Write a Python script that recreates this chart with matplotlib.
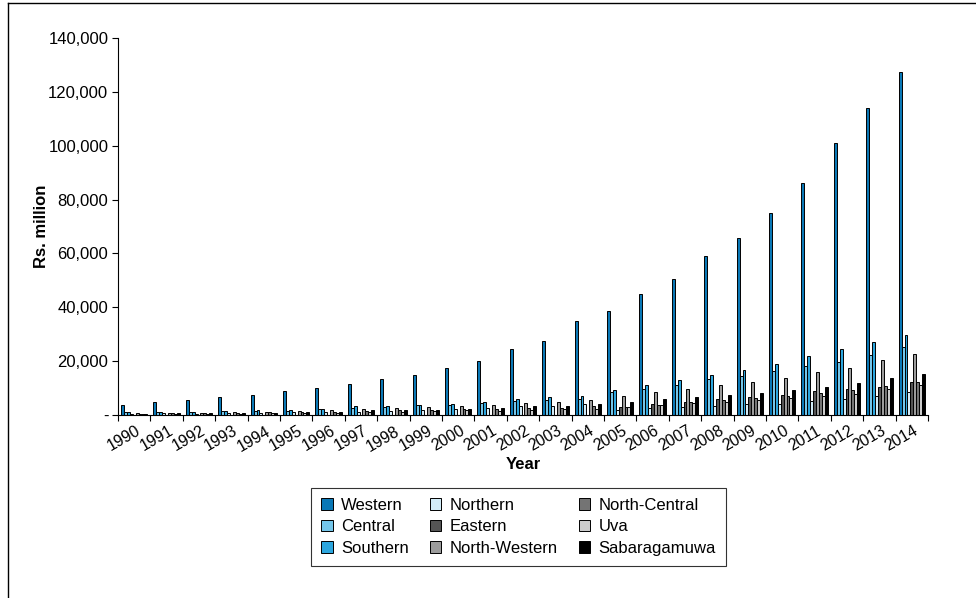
import matplotlib
matplotlib.use('Agg')
import matplotlib.pyplot as plt
from matplotlib.lines import Line2D
from matplotlib.ticker import FuncFormatter, FixedLocator
import matplotlib.transforms as mtransforms
import numpy as np

plt.rcParams['font.family'] = ['Liberation Sans', 'DejaVu Sans']

years = [str(y) for y in range(1990, 2015)]
provinces = ['Western', 'Central', 'Southern', 'Northern', 'Eastern',
             'North-Western', 'North-Central', 'Uva', 'Sabaragamuwa']
colors = ['#0a78b6', '#74c6ea', '#2ca6de', '#d2ecf8', '#555555',
          '#9c9c9c', '#747474', '#cccccc', '#000000']

# values in thousand Rs. million
western = [3.8, 4.7, 5.4, 6.5, 7.5, 8.8, 10.0, 11.5, 13.4, 14.9, 17.3, 19.9, 24.5,
           27.4, 34.9, 38.7, 44.8, 50.6, 59.0, 65.8, 75.1, 86.3, 100.9, 113.9, 127.3]
central = [1.0, 1.1, 1.2, 1.3, 1.5, 1.6, 2.1, 2.6, 3.0, 3.6, 3.7, 4.5, 5.3,
           5.6, 6.0, 8.4, 9.7, 11.3, 13.2, 14.4, 16.2, 18.1, 19.8, 22.4, 25.3]
southern = [1.0, 1.2, 1.2, 1.5, 1.7, 2.0, 2.4, 3.2, 3.5, 3.8, 4.1, 4.9, 5.9,
            6.7, 7.2, 9.2, 11.0, 12.9, 14.8, 16.6, 19.1, 22.0, 24.6, 27.2, 29.6]
northern = [0.5, 0.6, 0.5, 0.6, 0.8, 1.0, 1.2, 1.2, 1.6, 1.9, 2.1, 2.5, 3.3,
            3.5, 3.9, 2.0, 2.7, 3.1, 3.5, 3.9, 4.2, 5.1, 6.0, 7.2, 8.7]
eastern = [0, 0, 0, 0, 0, 0, 0, 0, 0, 0, 0, 0, 0,
           0, 0, 3.1, 3.9, 5.0, 5.8, 6.8, 7.6, 8.8, 9.8, 10.5, 12.1]
north_western = [0.6, 0.9, 0.9, 1.2, 1.2, 1.5, 1.8, 2.2, 2.6, 2.9, 3.2, 3.8, 4.5,
                 4.8, 5.5, 7.1, 8.5, 9.7, 11.3, 12.4, 13.8, 16.0, 17.5, 20.3, 22.6]
north_central = [0.4, 0.6, 0.6, 0.7, 1.0, 1.1, 1.1, 1.5, 1.7, 1.7, 2.2, 2.1, 2.5,
                 2.5, 3.2, 2.8, 3.8, 5.0, 5.5, 6.4, 6.9, 8.0, 9.2, 10.8, 12.4]
uva = [0.4, 0.5, 0.5, 0.5, 0.9, 0.8, 0.7, 1.0, 1.2, 1.5, 2.0, 1.5, 2.0,
       2.4, 2.4, 3.1, 3.8, 4.3, 5.0, 5.6, 6.4, 7.2, 7.9, 9.7, 11.2]
sabaragamuwa = [0.4, 0.6, 0.6, 0.7, 0.9, 1.1, 1.2, 1.7, 2.0, 2.0, 2.4, 2.6, 3.2,
                3.5, 3.9, 4.9, 5.8, 6.8, 7.6, 8.2, 9.1, 10.5, 11.7, 13.8, 15.2]

series = [western, central, southern, northern, eastern,
          north_western, north_central, uva, sabaragamuwa]

fig = plt.figure(figsize=(9.76, 5.98), dpi=100)
ax = fig.add_axes([118/976, 1-415/598, 810/976, 377/598])

x = np.arange(len(years))
w = 0.09
for k, (name, vals, c) in enumerate(zip(provinces, series, colors)):
    ax.bar(x - 0.405 + (k + 0.5)*w, np.array(vals)*1000, width=w, color=c,
           edgecolor='black', linewidth=0.7, label=name)

ax.set_xlim(-0.5, len(years) - 0.5)
ax.set_ylim(0, 140000)
ax.set_yticks(range(0, 140001, 20000))
ax.yaxis.set_major_formatter(FuncFormatter(lambda v, p: '-' if v == 0 else f'{int(v):,}'))

ax.xaxis.set_major_locator(FixedLocator(np.arange(len(years) + 1) - 0.5))
ax.xaxis.set_minor_locator(FixedLocator(x))
ax.set_xticklabels([], minor=False)
ax.set_xticklabels(years, minor=True, rotation=30, ha='right')
ax.tick_params(axis='x', which='major', length=4, width=0.8, direction='out')
ax.tick_params(axis='x', which='minor', length=0, pad=6, labelsize=11.5)
ax.tick_params(axis='y', length=4, width=0.8, labelsize=12, pad=3)
shift = mtransforms.ScaledTranslation(9/100, 0, fig.dpi_scale_trans)
for lab in ax.get_xticklabels(minor=True):
    lab.set_transform(lab.get_transform() + shift)

for s in ['top', 'right']:
    ax.spines[s].set_visible(False)
for s in ['left', 'bottom']:
    ax.spines[s].set_linewidth(0.8)

ax.set_ylabel('Rs. million', fontsize=12, fontweight='bold')
ax.yaxis.set_label_coords(-0.085, 0.5)
ax.set_xlabel('Year', fontsize=12, fontweight='bold', labelpad=2)

leg = fig.legend(loc='lower left', bbox_to_anchor=(311/976, 1-566/598, 415/976, 81/598),
                 mode='expand', ncol=3, fontsize=12, frameon=True, fancybox=False,
                 edgecolor='black', handlelength=0.7, handleheight=0.7,
                 handletextpad=0.5, columnspacing=2.0, labelspacing=0.4,
                 borderpad=0.6, borderaxespad=0)
leg.get_frame().set_linewidth(0.8)

# outer frame lines
fig.add_artist(Line2D([8/976, 1], [1-3/598, 1-3/598], color='black', linewidth=1.0))
fig.add_artist(Line2D([8/976, 8/976], [0, 1-3/598], color='black', linewidth=1.0))

fig.savefig('out.png', dpi=100)
